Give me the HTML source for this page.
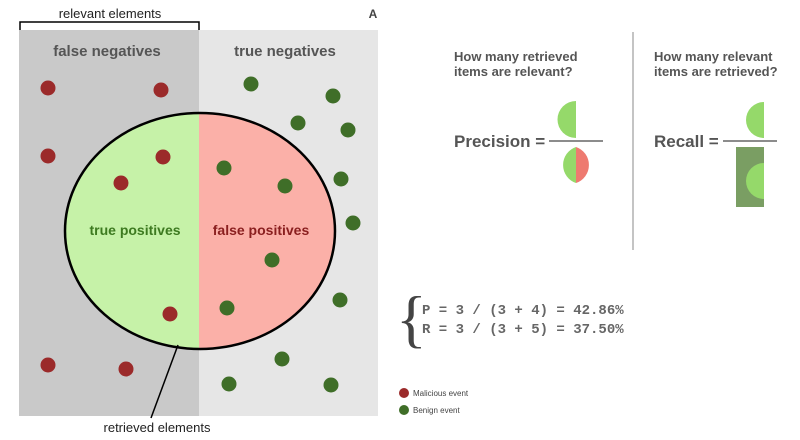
<!DOCTYPE html>
<html><head><style>body{margin:0;background:#fff}svg{display:block}</style></head><body>
<svg width="800" height="440" xmlns="http://www.w3.org/2000/svg" font-family="Liberation Sans, sans-serif">
<rect x="0" y="0" width="800" height="440" fill="#fff"/>
<rect x="19" y="30" width="180" height="386" fill="#c9c9c9"/>
<rect x="199" y="30" width="179" height="386" fill="#e6e6e6"/>
<clipPath id="l"><rect x="0" y="0" width="199" height="440"/></clipPath>
<clipPath id="r"><rect x="199" y="0" width="300" height="440"/></clipPath>
<ellipse cx="200" cy="231" rx="135" ry="118" fill="#c6f2a8" clip-path="url(#l)"/>
<ellipse cx="200" cy="231" rx="135" ry="118" fill="#fbb0a8" clip-path="url(#r)"/>
<ellipse cx="200" cy="231" rx="135" ry="118" fill="none" stroke="#000" stroke-width="2.5"/>
<path d="M20 30 V22 H199 V30" fill="none" stroke="#000" stroke-width="1.5"/>
<text x="110" y="18" text-anchor="middle" font-size="13" fill="#222">relevant elements</text>
<text x="373" y="18" text-anchor="middle" font-size="12" font-weight="bold" fill="#444">A</text>
<text x="107" y="56" text-anchor="middle" font-size="15" font-weight="bold" fill="#555">false negatives</text>
<text x="285" y="56" text-anchor="middle" font-size="15" font-weight="bold" fill="#555">true negatives</text>
<text x="135" y="235" text-anchor="middle" font-size="14" font-weight="bold" fill="#3d7a20">true positives</text>
<text x="261" y="235" text-anchor="middle" font-size="14" font-weight="bold" fill="#8a1f1f">false positives</text>
<g fill="#9b2a2a">
<circle cx="48" cy="88" r="7.5"/><circle cx="161" cy="90" r="7.5"/><circle cx="48" cy="156" r="7.5"/><circle cx="163" cy="157" r="7.5"/><circle cx="121" cy="183" r="7.5"/><circle cx="170" cy="314" r="7.5"/><circle cx="48" cy="365" r="7.5"/><circle cx="126" cy="369" r="7.5"/>
</g>
<g fill="#3f6e28">
<circle cx="251" cy="84" r="7.5"/><circle cx="333" cy="96" r="7.5"/><circle cx="298" cy="123" r="7.5"/><circle cx="348" cy="130" r="7.5"/><circle cx="224" cy="168" r="7.5"/><circle cx="285" cy="186" r="7.5"/><circle cx="341" cy="179" r="7.5"/><circle cx="353" cy="223" r="7.5"/><circle cx="272" cy="260" r="7.5"/><circle cx="227" cy="308" r="7.5"/><circle cx="340" cy="300" r="7.5"/><circle cx="282" cy="359" r="7.5"/><circle cx="229" cy="384" r="7.5"/><circle cx="331" cy="385" r="7.5"/>
</g>
<line x1="178" y1="345" x2="151" y2="418" stroke="#000" stroke-width="1.5"/>
<text x="157" y="432" text-anchor="middle" font-size="13" fill="#222">retrieved elements</text>
<g font-size="13" font-weight="bold" fill="#555">
<text x="454" y="61">How many retrieved</text><text x="454" y="76">items are relevant?</text>
<text x="654" y="61">How many relevant</text><text x="654" y="76">items are retrieved?</text>
</g>
<line x1="633" y1="32" x2="633" y2="250" stroke="#888" stroke-width="1"/>
<text x="454" y="147" font-size="17" font-weight="bold" fill="#555">Precision =</text>
<path d="M576 101 A18 18 0 0 0 576 138 Z" fill="#95d96a"/>
<line x1="549" y1="141" x2="603" y2="141" stroke="#666" stroke-width="1.5"/>
<path d="M576 147 A19 19 0 0 0 576 183 Z" fill="#95d96a"/>
<path d="M576 147 A19 19 0 0 1 576 183 Z" fill="#ee7a70"/>
<text x="654" y="147" font-size="17" font-weight="bold" fill="#555">Recall =</text>
<path d="M764 102 A18 18 0 0 0 764 138 Z" fill="#95d96a"/>
<line x1="723" y1="141" x2="777" y2="141" stroke="#666" stroke-width="1.5"/>
<rect x="736" y="147" width="28" height="60" fill="#7a9e63"/>
<path d="M764 163 A18 18 0 0 0 764 199 Z" fill="#95d96a"/>
<text x="396" y="340" font-size="64" fill="#444" font-family="Liberation Serif, serif">{</text>
<g font-family="Liberation Mono, monospace" font-size="14" font-weight="bold" fill="#666">
<text x="422" y="314">P = 3 / (3 + 4) = 42.86%</text>
<text x="422" y="333">R = 3 / (3 + 5) = 37.50%</text>
</g>
<circle cx="404" cy="393" r="5" fill="#9b2a2a"/>
<text x="413" y="396" font-size="8" fill="#444">Malicious event</text>
<circle cx="404" cy="410" r="5" fill="#3f6e28"/>
<text x="413" y="413" font-size="8" fill="#444">Benign event</text>
</svg>
</body></html>
